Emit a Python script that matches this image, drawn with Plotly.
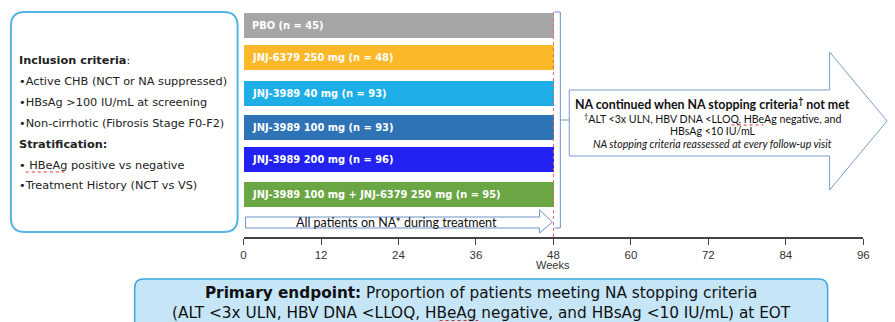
import plotly.graph_objects as go

W, H = 895, 322

# ---- study data -------------------------------------------------------
arm_labels = [
    "PBO (n = 45)",
    "JNJ-6379 250 mg (n = 48)",
    "JNJ-3989 40 mg (n = 93)",
    "JNJ-3989 100 mg (n = 93)",
    "JNJ-3989 200 mg (n = 96)",
    "JNJ-3989 100 mg + JNJ-6379 250 mg (n = 95)",
]
arm_weeks = [48, 48, 48, 48, 48, 48]
arm_colors = ["#A6A6A6", "#FBB829", "#1DAEE8", "#2E73B6", "#2222F2", "#6BA644"]
week_ticks = [0, 12, 24, 36, 48, 60, 72, 84, 96]
treatment_end = 48

inclusion_lines = [
    ("<b>Inclusion criteria</b>:", 61),
    ("•Active CHB (NCT or NA suppressed)", 82),
    ("•HBsAg >100 IU/mL at screening", 102),
    ("•Non-cirrhotic (Fibrosis Stage F0-F2)", 123),
    ("<b>Stratification:</b>", 144),
    ("• HBeAg positive vs negative", 165),
    ("•Treatment History (NCT vs VS)", 185),
]

# ---- layout geometry (pixels from top-left) ---------------------------
row_y = [25.5, 57.5, 93.5, 127.5, 159.5, 194.5]
bar_h = 25
axis_y = 238
x0_px, x96_px = 243, 869


def px(x, y):
    return f"{x / W:.5f},{1 - y / H:.5f}"


def path(points, close=True):
    s = "M " + " L ".join(px(x, y) for x, y in points)
    return s + (" Z" if close else "")


def rounded_rect(x0, y0, x1, y1, r):
    return (
        f"M {px(x0 + r, y0)} L {px(x1 - r, y0)} Q {px(x1, y0)} {px(x1, y0 + r)} "
        f"L {px(x1, y1 - r)} Q {px(x1, y1)} {px(x1 - r, y1)} "
        f"L {px(x0 + r, y1)} Q {px(x0, y1)} {px(x0, y1 - r)} "
        f"L {px(x0, y0 + r)} Q {px(x0, y0)} {px(x0 + r, y0)} Z"
    )


def squiggle(x0, x1, y):
    # red spell-check style underline
    return dict(type="line", xref="paper", yref="paper", x0=x0 / W, x1=x1 / W,
                y0=1 - y / H, y1=1 - y / H, line=dict(color="#E03030", width=1, dash="dot"))


fig = go.Figure()

fig.add_trace(go.Bar(
    x=arm_weeks, y=row_y, base=0, orientation="h", width=bar_h,
    marker=dict(color=arm_colors, line=dict(width=0)),
    hoverinfo="skip", showlegend=False,
))

shapes = []
annotations = []

# left criteria panel
shapes.append(dict(type="path", xref="paper", yref="paper",
                   path=rounded_rect(8, 12, 237, 232, 14),
                   line=dict(color="#55B4E6", width=2), fillcolor="white"))
for txt, y in inclusion_lines:
    annotations.append(dict(xref="paper", yref="paper", x=14 / W, y=1 - y / H,
                            text=txt, showarrow=False, xanchor="left", yanchor="middle",
                            font=dict(family="DejaVu Sans", size=11.3, color="#222")))
shapes.append(squiggle(23, 62, 172))

# arm labels
for lab, y in zip(arm_labels, row_y):
    annotations.append(dict(xref="x", yref="y", x=0, y=y, xshift=6, text=f"<b>{lab}</b>",
                            showarrow=False, xanchor="left", yanchor="middle",
                            font=dict(family="DejaVu Sans", size=9.9, color="white")))

# NA background arrow under the arms
shapes.append(dict(type="path", xref="paper", yref="paper",
                   path=path([(245, 217), (542, 217), (542, 210), (555, 222),
                              (542, 233), (542, 228), (245, 228)]),
                   line=dict(color="#6E95C8", width=1), fillcolor="white"))
annotations.append(dict(xref="paper", yref="paper", x=397 / W, y=1 - 222 / H,
                        text="All patients on NA* during treatment", showarrow=False,
                        xanchor="center", yanchor="middle",
                        font=dict(family="Lato", size=12.5, color="#111")))

# end-of-treatment marker
shapes.append(dict(type="line", xref="x", yref="y", x0=treatment_end, x1=treatment_end,
                   y0=12, y1=axis_y, line=dict(color="#E06666", width=1, dash="dot")))

# bracket joining arms to follow-up arrow
shapes.append(dict(type="path", xref="paper", yref="paper",
                   path=path([(557, 12), (563, 12), (563, 228), (557, 228)], close=False),
                   line=dict(color="#6E95C8", width=1)))
shapes.append(dict(type="line", xref="paper", yref="paper",
                   x0=563 / W, x1=572 / W, y0=1 - 120 / H, y1=1 - 120 / H,
                   line=dict(color="#6E95C8", width=1)))

# follow-up arrow
shapes.append(dict(type="path", xref="paper", yref="paper",
                   path=path([(572, 90), (835, 90), (835, 52), (893, 121),
                              (835, 190), (835, 156), (572, 156)]),
                   line=dict(color="#7A9CCB", width=1), fillcolor="white"))
arrow_text = [
    ("<b>NA continued when NA stopping criteria<sup>†</sup> not met</b>", 103, 12.4),
    ("<sup>†</sup>ALT <3x ULN, HBV DNA <LLOQ, HBeAg negative, and", 118, 10.6),
    ("HBsAg <10 IU/mL", 131, 10.6),
    ("<i>NA stopping criteria reassessed at every follow-up visit</i>", 144, 10.6),
]
for txt, y, sz in arrow_text:
    annotations.append(dict(xref="paper", yref="paper", x=717 / W, y=1 - y / H,
                            text=txt, showarrow=False, xanchor="center", yanchor="middle",
                            font=dict(family="Lato", size=sz, color="#111")))
shapes.append(squiggle(736, 768, 125))

annotations.append(dict(xref="x", yref="paper", x=48, y=1 - 265 / H, text="Weeks",
                        showarrow=False, xanchor="center", yanchor="middle",
                        font=dict(family="Liberation Sans", size=11, color="#333")))

# primary endpoint box
shapes.append(dict(type="path", xref="paper", yref="paper",
                   path=rounded_rect(133, 279, 833, 345, 9),
                   line=dict(color="#3EA6E2", width=1.5), fillcolor="#C6E6F8"))
annotations.append(dict(
    xref="paper", yref="paper", x=483 / W, y=1 - 282 / H,
    text=("<b>Primary endpoint:</b> Proportion of patients meeting NA stopping criteria<br>"
          "(ALT <3x ULN, HBV DNA <LLOQ, HBeAg negative, and HBsAg <10 IU/mL) at EOT"),
    showarrow=False, xanchor="center", yanchor="top", align="center",
    font=dict(family="DejaVu Sans", size=15.3, color="#111")))
shapes.append(squiggle(441, 480, 320.5))

fig.update_layout(
    width=W, height=H, margin=dict(l=0, r=0, t=0, b=0),
    paper_bgcolor="white", plot_bgcolor="rgba(0,0,0,0)",
    shapes=shapes, annotations=annotations, bargap=0,
    xaxis=dict(domain=[x0_px / W, x96_px / W], range=[0, 96], tickvals=week_ticks,
               ticks="outside", ticklen=6, tickcolor="#444", showline=True,
               linecolor="#444", linewidth=1.5, anchor="free", position=1 - axis_y / H,
               showgrid=False, zeroline=False, ticklabelstandoff=0,
               tickfont=dict(family="Liberation Sans", size=11.5, color="#333")),
    yaxis=dict(domain=[0, 1], range=[H, 0], visible=False, fixedrange=True),
)

fig.write_html("out.html")
